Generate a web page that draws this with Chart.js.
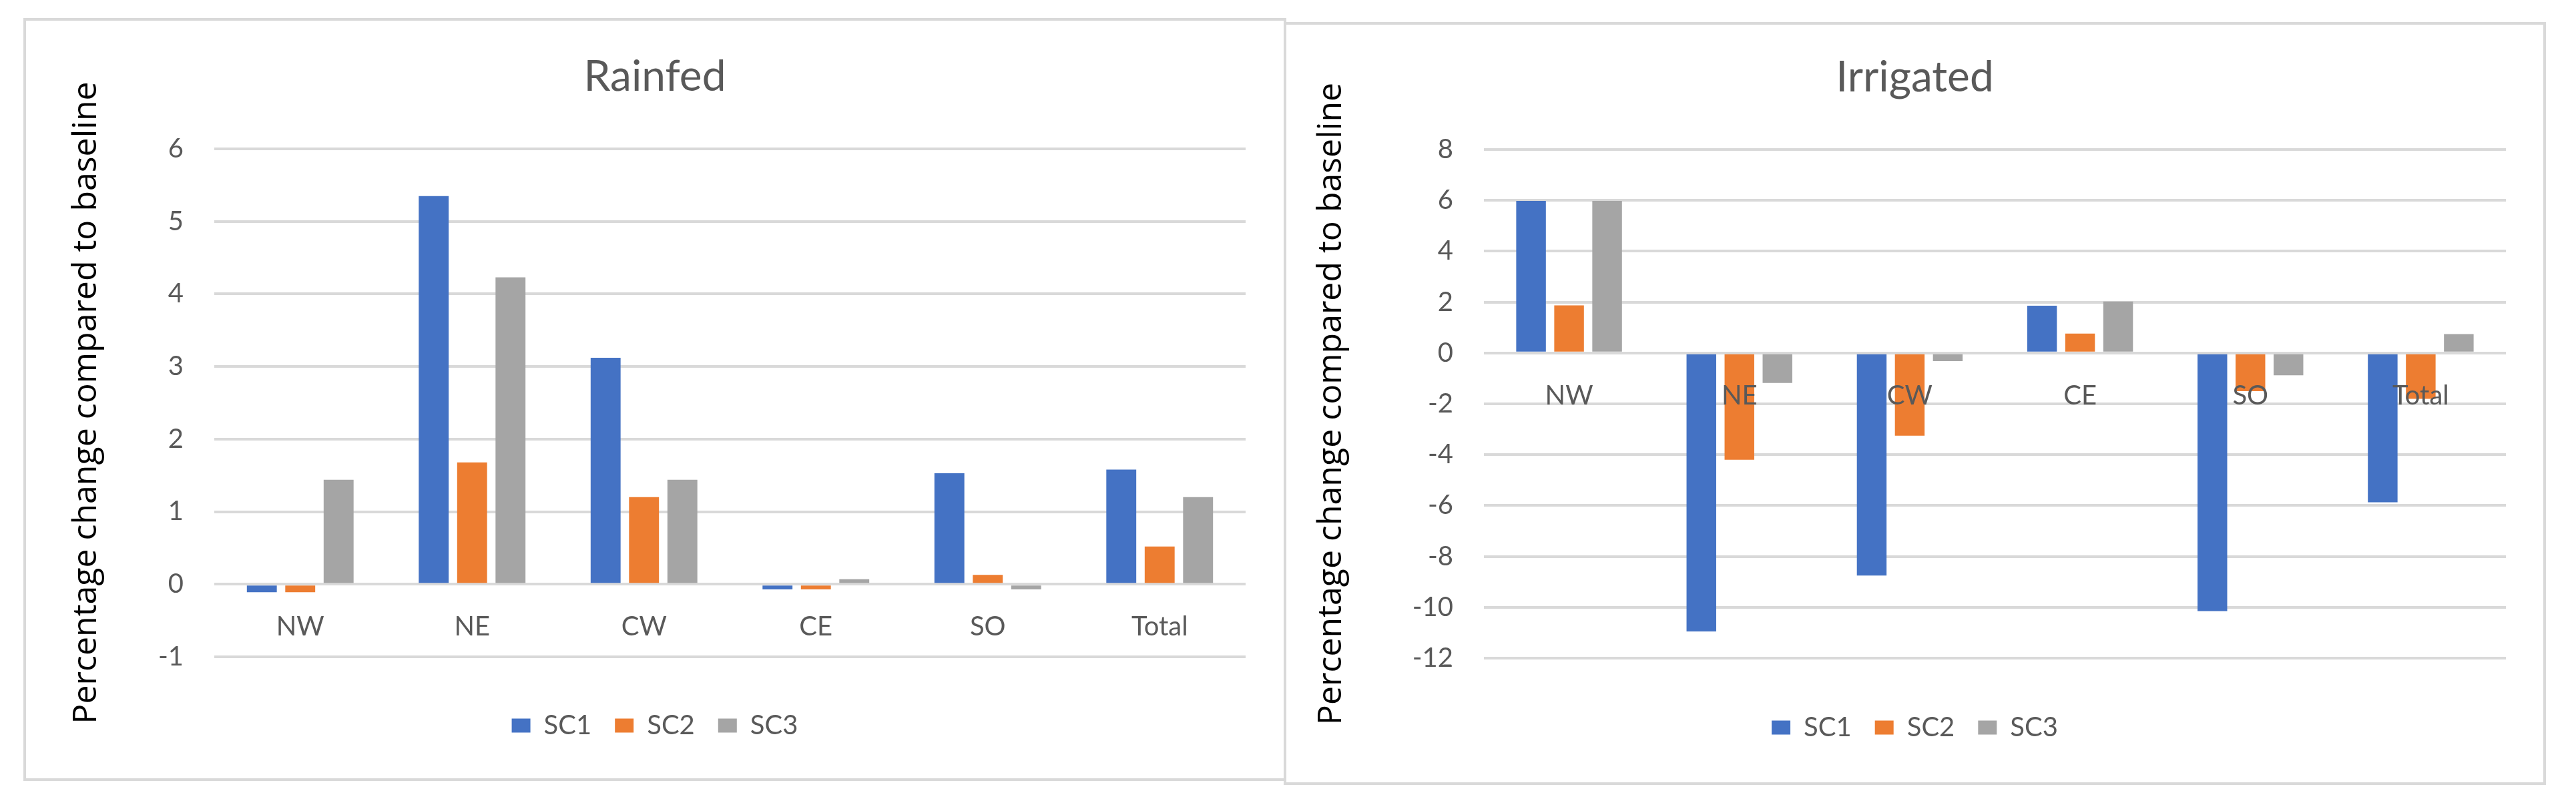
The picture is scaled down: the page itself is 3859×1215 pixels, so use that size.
<!DOCTYPE html>
<html>
<head>
<meta charset="utf-8">
<title>Rainfed / Irrigated</title>
<script src="https://cdn.jsdelivr.net/npm/chart.js@4.4.1/dist/chart.umd.min.js"></script>
<style>
  body { margin: 0; background: #fff; width: 3859px; height: 1215px; position: relative; overflow: hidden; }
  .frame { position: absolute; border: 4px solid #d9d9d9; box-sizing: border-box; }
  .box { position: absolute; }
</style>
</head>
<body>
<div class="frame" style="left:35px;top:27px;width:1892px;height:1143px"></div>
<div class="frame" style="left:1923px;top:33px;width:1891px;height:1143px"></div>
<div class="box" style="left:37px;top:29px;width:1888px;height:1139px">
  <canvas id="rainfedChart" width="1888" height="1139"></canvas>
</div>
<div class="box" style="left:1925px;top:35px;width:1887px;height:1139px">
  <canvas id="irrigatedChart" width="1887" height="1139"></canvas>
</div>
<script>
const regions = ["NW", "NE", "CW", "CE", "SO", "Total"];
const seriesNames = ["SC1", "SC2", "SC3"];
const seriesColors = ["#4472C4", "#ED7D31", "#A5A5A5"];

const rainfedSC1 = [-0.11, 5.35, 3.12, -0.07, 1.53, 1.58];
const rainfedSC2 = [-0.11, 1.68, 1.2, -0.07, 0.13, 0.52];
const rainfedSC3 = [1.44, 4.23, 1.44, 0.07, -0.07, 1.2];

const irrigatedSC1 = [5.98, -10.95, -8.75, 1.86, -10.15, -5.87];
const irrigatedSC2 = [1.87, -4.2, -3.25, 0.76, -1.5, -1.8];
const irrigatedSC3 = [5.98, -1.18, -0.32, 2.02, -0.88, 0.74];

const yTitle = "Percentage change compared to baseline";

Chart.defaults.font.family = "Lato";

const makeChart = (id, title, series, yMin, yMax, step, g) => {
  const data = {
    labels: regions,
    datasets: series.map((values, i) => ({
      label: seriesNames[i],
      data: values,
      backgroundColor: seriesColors[i],
      borderWidth: 0,
      categoryPercentage: 0.67,
      barPercentage: 0.78,
    })),
  };

  const config = {
    type: "bar",
    data: data,
    options: {
      responsive: false,
      maintainAspectRatio: false,
      animation: false,
      devicePixelRatio: 1,
      layout: {
        padding: { left: g.padLeft, right: g.padRight, top: 0, bottom: g.padBottom },
      },
      plugins: {
        tooltip: { enabled: false },
        title: {
          display: true,
          text: title,
          color: "#595959",
          font: { family: "Lato", size: 64, weight: "normal", lineHeight: 1.2 },
          padding: { top: g.titleTop, bottom: g.titleBottom },
        },
        legend: {
          position: "bottom",
          title: {
            display: true,
            text: " ",
            font: { size: 1, lineHeight: 1 },
            padding: { top: g.legendGap, bottom: 0 },
          },
          labels: {
            color: "#595959",
            font: { family: "Lato", size: 40 },
            boxWidth: 28,
            boxHeight: 21,
            padding: 35,
          },
        },
      },
      scales: {
        x: {
          position: { y: 0 },
          grid: { display: false, drawTicks: false },
          border: { display: false },
          ticks: {
            color: "#595959",
            font: { family: "Lato", size: 40 },
            padding: 40,
            z: 1,
            maxRotation: 0,
            autoSkip: false,
          },
        },
        y: {
          min: yMin,
          max: yMax,
          afterFit: (scale) => {
            scale.width = g.yWidth;
          },
          grid: { color: "#d9d9d9", lineWidth: 4, drawTicks: false },
          border: { display: false },
          ticks: {
            stepSize: step,
            color: "#595959",
            font: { family: "Lato", size: 40 },
            padding: 46,
          },
          title: {
            display: true,
            text: yTitle,
            color: "#000000",
            font: { family: "Open Sans", size: 50, lineHeight: 0.4 },
            padding: { top: g.yTitlePad, bottom: 0 },
          },
        },
      },
    },
  };

  return new Chart(document.getElementById(id).getContext("2d"), config);
};

Promise.all([
  document.fonts.load("40px Lato"),
  document.fonts.load("50px 'Open Sans'"),
]).catch(() => null).then(() => {
  makeChart("rainfedChart", "Rainfed", [rainfedSC1, rainfedSC2, rainfedSC3], -1, 6, 1, {
    padLeft: 59, padRight: 59, padBottom: 51, yWidth: 225, yTitlePad: 24,
    titleTop: 48.4, titleBottom: 68.8, legendGap: 47,
  });
  makeChart("irrigatedChart", "Irrigated", [irrigatedSC1, irrigatedSC2, irrigatedSC3], -12, 8, 2, {
    padLeft: 58, padRight: 58, padBottom: 54, yWidth: 240, yTitlePad: 2,
    titleTop: 42.9, titleBottom: 69.3, legendGap: 48,
  });
});
</script>
</body>
</html>
